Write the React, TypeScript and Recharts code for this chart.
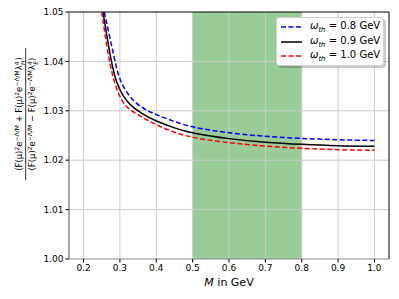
import React from "react";
import {
  LineChart,
  Line,
  XAxis,
  YAxis,
  ReferenceArea,
  ReferenceLine,
  Label,
} from "recharts";

// ---- data ----
const xTicks = [0.2, 0.3, 0.4, 0.5, 0.6, 0.7, 0.8, 0.9, 1.0];
const yTicks = [1.0, 1.01, 1.02, 1.03, 1.04, 1.05];

const mBlue = [0.257, 0.2865, 0.2982, 0.327, 0.3636, 0.4, 0.45, 0.5, 0.6, 0.7, 0.8, 0.9, 1.0];
const vBlue = [1.05, 1.04, 1.0363, 1.0326, 1.0304, 1.0292, 1.0278, 1.0266, 1.0255, 1.0248, 1.0244, 1.0241, 1.024];

const mBlack = [0.2535, 0.2755, 0.2905, 0.3092, 0.327, 0.3636, 0.4, 0.45, 0.5, 0.6, 0.7, 0.8, 0.9, 1.0];
const vBlack = [1.05, 1.04, 1.0356, 1.0329, 1.0312, 1.0292, 1.0279, 1.0265, 1.0254, 1.0243, 1.0236, 1.0232, 1.0229, 1.0228];

const mRed = [0.25, 0.27, 0.2865, 0.3, 0.3183, 0.3636, 0.4, 0.45, 0.5, 0.6, 0.7, 0.8, 0.9, 1.0];
const vRed = [1.05, 1.04, 1.0353, 1.0327, 1.0305, 1.0286, 1.0271, 1.0256, 1.0245, 1.0235, 1.0228, 1.0224, 1.0221, 1.022];

const seriesNames = ["0.8 GeV", "0.9 GeV", "1.0 GeV"];
const seriesColors = ["#0000ff", "#000000", "#ff0000"];
const seriesDashed = [true, false, true];
const bandRange = [0.5, 0.8];
const xDomain = [0.16, 1.04];
const yDomain = [1.0, 1.05];

const toRows = (ms: number[], vs: number[]) => ms.map((m, i) => ({ M: m, v: vs[i] }));
const seriesData = [toRows(mBlue, vBlue), toRows(mBlack, vBlack), toRows(mRed, vRed)];

const FONT = "DejaVu Sans, sans-serif";

type Seg = [string, "n" | "sup" | "sub"];

const numer: Seg[] = [
  ["(F(μ)", "n"], ["2", "sup"], ["e", "n"], ["−Λ/M", "sup"],
  [" + F(μ)", "n"], ["2", "sup"], ["e", "n"], ["−Λ/M", "sup"],
  ["λ", "n"], ["4", "sup"], [")", "n"],
];
const denom: Seg[] = [
  ["(F(μ)", "n"], ["2", "sup"], ["e", "n"], ["−Λ/M", "sup"],
  [" − F(μ)", "n"], ["2", "sup"], ["e", "n"], ["−Λ/M", "sup"],
  ["λ", "n"], ["4", "sup"], [")", "n"],
];
const numSub = "H";
const denSub = "E";

function renderSegs(segs: Seg[], sub: string) {
  const out: React.ReactNode[] = [];
  let level = 0;
  segs.forEach((s, i) => {
    const target = s[1] === "sup" ? -3.5 : s[1] === "sub" ? 2.5 : 0;
    const dy = target - level;
    level = target;
    out.push(
      <tspan key={i} dy={dy} fontSize={s[1] === "n" ? 8.5 : 6}>
        {s[0]}
      </tspan>
    );
    if (s[0] === "4") {
      const t2 = 2.5;
      out.push(
        <tspan key={i + "s"} dx={-3.6} dy={t2 - level} fontSize={6} fontStyle="italic">
          {sub}
        </tspan>
      );
      level = t2;
    }
  });
  return out;
}

const YLabel = () => {
  const cy = 114;
  return (
    <g fontFamily={FONT} fill="#000">
      <text x={22} y={cy} textAnchor="middle" transform={`rotate(-90, 22, ${cy})`} fontSize={8.5}>
        {renderSegs(numer, numSub)}
      </text>
      <line x1={25.7} x2={25.7} y1={48} y2={180} stroke="#000" strokeWidth={0.8} />
      <text x={35} y={cy} textAnchor="middle" transform={`rotate(-90, 35, ${cy})`} fontSize={8.5}>
        {renderSegs(denom, denSub)}
      </text>
    </g>
  );
};

const XLabel = () => (
  <text x={229} y={286} textAnchor="middle" fontFamily={FONT} fontSize={11} fill="#000">
    <tspan fontStyle="italic">M</tspan> in GeV
  </text>
);

const GRID = "#cccccc";

export default function App() {
  return (
    <div style={{ position: "absolute", left: 0, top: 0, width: 399, height: 299, background: "#fff" }}>
      <LineChart width={399} height={299} margin={{ top: 12, right: 10, bottom: 0, left: 0 }}>
        <XAxis
          type="number"
          dataKey="M"
          domain={xDomain}
          allowDataOverflow
          ticks={xTicks}
          tickFormatter={(v: number) => v.toFixed(1)}
          tick={{ fontSize: 9, fill: "#000", fontFamily: FONT }}
          tickSize={3.5}
          tickLine={{ stroke: "#000" }}
          axisLine={{ stroke: "#888", strokeWidth: 1 }}
          height={40}
        >
          <Label content={XLabel} />
        </XAxis>
        <YAxis
          type="number"
          domain={yDomain}
          allowDataOverflow
          ticks={yTicks}
          tickFormatter={(v: number) => v.toFixed(2)}
          tick={{ fontSize: 9, fill: "#000", fontFamily: FONT }}
          tickSize={3.5}
          tickLine={{ stroke: "#000" }}
          axisLine={{ stroke: "#888", strokeWidth: 1.5 }}
          width={69}
        >
          <Label content={YLabel} />
        </YAxis>
        <ReferenceArea
          x1={bandRange[0]}
          x2={bandRange[1]}
          fill="#008000"
          fillOpacity={0.4}
          stroke="none"
        />
        {xTicks.map((t) => (
          <ReferenceLine key={"gx" + t} x={t} stroke={GRID} strokeWidth={1} />
        ))}
        {yTicks.slice(1, -1).map((t) => (
          <ReferenceLine key={"gy" + t} y={t} stroke={GRID} strokeWidth={1} />
        ))}
        <ReferenceLine y={yDomain[1]} stroke="#000" strokeWidth={1} />
        <ReferenceLine x={xDomain[1]} stroke="#000" strokeWidth={1} />
        {seriesData.map((d, i) => (
          <Line
            key={seriesNames[i]}
            data={d}
            dataKey="v"
            type="basis"
            stroke={seriesColors[i]}
            strokeWidth={1.5}
            strokeDasharray={seriesDashed[i] ? "5 2.5" : undefined}
            dot={false}
            isAnimationActive={false}
          />
        ))}
      </LineChart>
      <div
        style={{
          position: "absolute",
          left: 276,
          top: 17,
          width: 108,
          height: 49,
          boxSizing: "border-box",
          background: "#fff",
          border: "1px solid #d0d0d0",
          borderRadius: 3,
          boxShadow: "2px 2px 0 rgba(0,0,0,0.2)",
          fontFamily: FONT,
          fontSize: 10,
          color: "#000",
          padding: "2px 0 0 4px",
        }}
      >
        {seriesNames.map((n, i) => (
          <div key={n} style={{ display: "flex", alignItems: "center", height: 14.5 }}>
            <svg width={21} height={6} style={{ marginRight: 8 }}>
              <line
                x1={0}
                x2={21}
                y1={3}
                y2={3}
                stroke={seriesColors[i]}
                strokeWidth={1.5}
                strokeDasharray={seriesDashed[i] ? "5 2.5" : undefined}
              />
            </svg>
            <span>
              <i>ω</i>
              <sub style={{ fontSize: 7, fontStyle: "italic" }}>th</sub> = {n}
            </span>
          </div>
        ))}
      </div>
    </div>
  );
}
